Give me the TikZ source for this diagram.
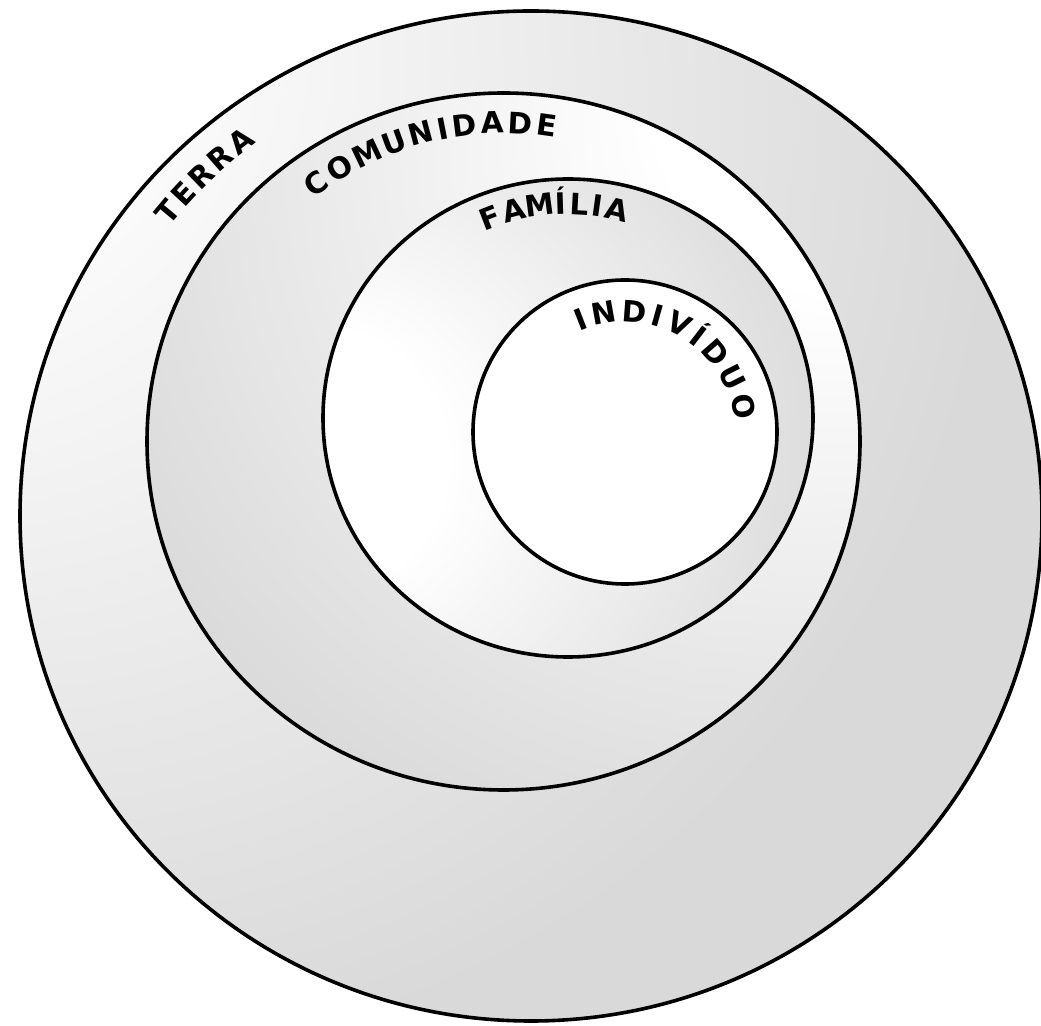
\documentclass[tikz,border=0pt]{standalone}
\usepackage{fontspec}
\setmainfont{DejaVu Sans}
\pgfdeclareradialshading{terrash}{\pgfpoint{-35bp}{28bp}}{color(0bp)=(white); color(10bp)=(white); color(45bp)=(black!15); color(120bp)=(black!15)}
\pgfdeclareradialshading{comush}{\pgfpoint{28bp}{28bp}}{color(0bp)=(white); color(14bp)=(white); color(50bp)=(black!15); color(120bp)=(black!15)}
\pgfdeclareradialshading{famsh}{\pgfpoint{-30bp}{-5bp}}{color(0bp)=(white); color(14bp)=(white); color(48bp)=(black!15); color(120bp)=(black!15)}
\begin{document}
\begin{tikzpicture}[x=1pt,y=1pt,
  ring/.style={draw=black,line width=3.6pt},
  lbl/.style={inner sep=0pt,text height=21.5pt,text depth=0pt,
    font=\bfseries\fontsize{29.5}{29.5}\selectfont,xscale=1.0}]
\path[use as bounding box] (0,0) rectangle (1041,1025);
\clip (0,0) rectangle (1041,1025);
\fill[white] (0,0) rectangle (1041,1025);
\coordinate (cT) at (531,509);
\coordinate (cC) at (503.5,583.5);
\coordinate (cF) at (568,607);
\coordinate (cI) at (625,593);
% Terra
\shade[shading=terrash] (cT) ellipse [x radius=511,y radius=505];
\draw[ring] (cT) ellipse [x radius=511,y radius=505];
% Comunidade
\shade[shading=comush] (cC) ellipse [x radius=356.5,y radius=348.5];
\draw[ring] (cC) ellipse [x radius=356.5,y radius=348.5];
% Familia
\shade[shading=famsh] (cF) ellipse [x radius=245,y radius=239];
\draw[ring] (cF) ellipse [x radius=245,y radius=239];
% Individuo
\fill[white] (cI) circle [radius=152];
\draw[ring] (cI) circle [radius=152];
% labels
\foreach \ch/\a [count=\i] in {T/140.1,E/137.2,R/134.1,R/131.0,A/127.8}
  \node[lbl,rotate=\a-90] (terra\i) at ([shift={(\a:474)}]cT) {\ch};
\foreach \ch/\a [count=\i] in {C/126,O/120.82,M/115.36,U/110.04,N/105.0,I/101.05,D/97.10,A/92.05,D/87.01,E/82.1}
  \node[lbl,rotate=\a-90] (comu\i) at ([shift={(\a:319)}]cC) {\ch};
\foreach \ch/\a [count=\i] in {F/111.2,A/104.77,M/97.61,Í/91.92,L/86.97,I/82.02,A/76.7}
  \node[lbl,rotate=\a-90] (fam\i) at ([shift={(\a:214.5)}]cF) {\ch};
\foreach \ch/\a [count=\i] in {I/111.4,N/100.1,D/85.67,I/74.38,V/63.47,Í/52.56,D/41.27,U/26.83,O/12.0}
  \node[lbl,rotate=\a-90] (ind\i) at ([shift={(\a:121)}]cI) {\ch};
\end{tikzpicture}
\end{document}
